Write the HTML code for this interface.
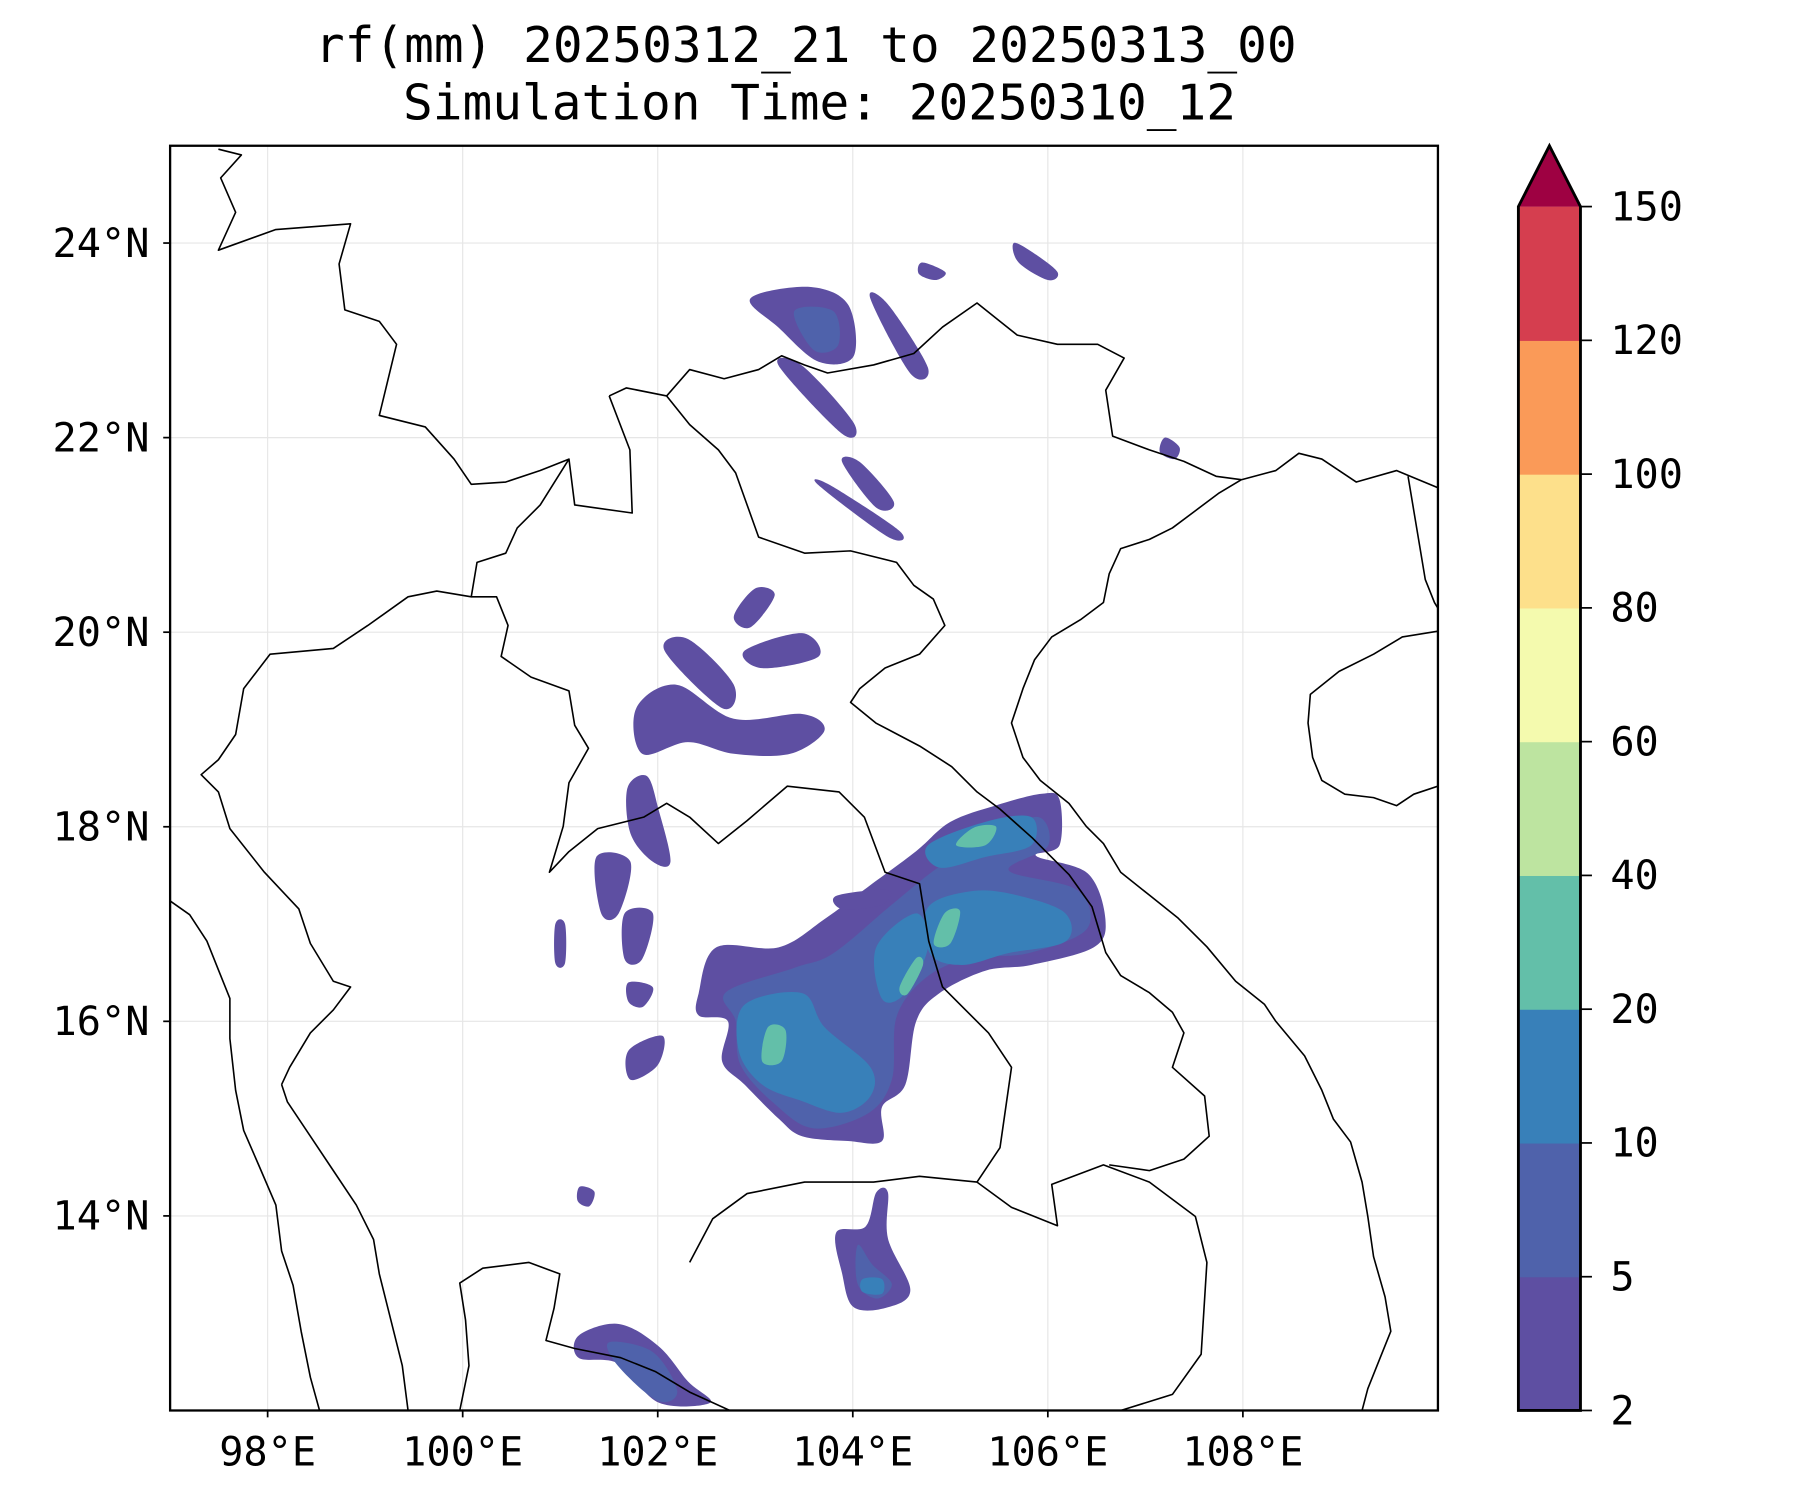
<!DOCTYPE html>
<html><head><meta charset="utf-8">
<style>
html,body{margin:0;padding:0;background:#fff;}
svg{display:block;}
text{font-family:"DejaVu Sans Mono","Liberation Mono",monospace;fill:#000;}
</style></head>
<body>
<svg id="chart" width="1800" height="1500" viewBox="0 0 1566 1307" preserveAspectRatio="none" xmlns="http://www.w3.org/2000/svg">
<rect x="0" y="0" width="1566" height="1307" fill="#fff"/>
<text x="701" y="54" font-size="43" text-anchor="middle">rf(mm) 20250312_21 to 20250313_00</text>
<text x="713" y="104" font-size="43" text-anchor="middle">Simulation Time: 20250310_12</text>
<defs><clipPath id="plotclip"><rect x="148" y="127" width="1103" height="1102"/></clipPath></defs>
<g id="grid"></g>
<g id="rain" clip-path="url(#plotclip)"></g>
<g id="geo" clip-path="url(#plotclip)" fill="none" stroke="#000" stroke-width="1.4" stroke-linejoin="round">
<polyline points="1251,425 1215,410 1180,420 1150,400 1130,395 1110,410 1080,418 1060,430 1040,445 1020,460 1000,470 975,478 965,500 960,525 940,540 915,555 900,575 890,600 880,630 890,660 905,680 930,700 945,720 960,735 975,760 1000,780 1025,800 1050,825 1075,855 1100,875 1110,890 1135,920 1150,950 1160,975 1175,995 1185,1030 1190,1060 1195,1095 1205,1130 1210,1160 1200,1185 1190,1210 1185,1229"/>
<polygon points="1140,605 1165,585 1195,570 1220,555 1251,550 1251,685 1230,692 1215,702 1195,695 1170,692 1150,680 1142,660 1138,630"/>
<polyline points="1225,415 1230,445 1235,475 1240,505 1248,525 1251,530"/>
<polyline points="148,785 165,797 180,820 190,845 200,870 200,905 205,950 212,985 225,1015 240,1050 245,1090 255,1120 262,1160 270,1200 278,1229"/>
<polyline points="355,1229 350,1190 340,1150 330,1110 325,1080 310,1050 290,1020 270,990 250,960 245,945"/>
<polyline points="400,1229 408,1190 405,1150 400,1118 420,1105 460,1100 487,1110 482,1140 475,1168 500,1175 540,1183 570,1195 600,1213 635,1229"/>
<polyline points="580,345 600,322 630,330 660,322 680,310 700,318 720,325 760,318 795,308 820,285 850,264 870,280 885,292 920,300 955,300 978,312 962,340 968,380 1000,392 1030,402 1058,415 1080,418"/>
<polyline points="530,345 545,338 580,345 600,370 625,392 640,412 650,440 660,468 700,482 740,480 780,490 795,510 812,522 822,545 800,570 770,582 748,600 740,612 762,630 800,650 828,668 850,690 870,705 898,730 930,762 950,790 962,830 975,850 1000,865 1020,882 1030,900 1020,930 1048,955 1052,990 1030,1010 1000,1020 965,1015"/>
<polyline points="190,130 210,135 192,155 205,185 190,218 240,200 305,195 295,230 300,270 330,280 345,300 330,362 370,372 395,400 410,422 440,420 470,410 495,400 500,440 550,447 548,392 530,345"/>
<polyline points="495,400 470,440 450,460 440,482 415,490 410,520 432,520 442,545 436,572 462,590 495,602 500,632 512,652 495,682 490,720 478,760 495,742 520,722 560,712 580,700 600,712 625,735 650,715 685,685 730,690 752,712 770,760 800,770 808,820 820,860 860,900 880,930 870,1000 850,1030"/>
<polyline points="410,520 380,515 355,520 320,545 290,565 235,570 212,600 205,640 190,662 175,675 190,690 200,722 230,760 260,792 270,822 290,855 305,860 290,880 270,900 252,930 245,945"/>
<polyline points="600,1100 620,1062 650,1040 700,1030 760,1030 800,1025 850,1030"/>
<polyline points="850,1030 880,1052 920,1068 915,1032 960,1015 1000,1030 1040,1060 1050,1100 1045,1180 1020,1215 975,1229"/>
</g>
<rect x="148" y="127" width="1103" height="1102" fill="none" stroke="#000" stroke-width="2"/>
<g id="axes"></g>
<g id="cbar"></g>
</svg>
<script>
// ---- data ----
const lonTicks = [98, 100, 102, 104, 106, 108];
const latTicks = [14, 16, 18, 20, 22, 24];
const cbarLevels = [2, 5, 10, 20, 40, 60, 80, 100, 120, 150];
const cbarColors = ["#5e4fa2","#4f62ab","#3880b9","#63bfa9","#bde4a0","#f4faae","#fde08b","#fa9a58","#d53e4f"];
const extendColor = "#9e0142";
// rain polygons (lon,lat) at contour level index
const rainLevel0 = [
 [[102.42,16.29],[102.60,16.76],[103.24,16.76],[103.71,17.05],[104.18,17.40],[104.65,17.75],[105.00,18.05],[105.47,18.22],[105.94,18.34],[106.12,18.28],[106.12,17.81],[105.88,17.70],[106.41,17.52],[106.59,17.05],[106.47,16.76],[105.83,16.58],[105.36,16.52],[104.89,16.29],[104.65,16.00],[104.54,15.35],[104.30,15.12],[104.30,14.77],[103.95,14.77],[103.48,14.82],[103.24,15.00],[102.89,15.35],[102.66,15.59],[102.72,16.00],[102.42,16.06]],
 [[103.83,13.83],[104.13,13.89],[104.24,14.24],[104.36,14.24],[104.36,13.77],[104.59,13.24],[104.36,13.06],[104.01,13.06],[103.89,13.41]],
 [[101.19,12.77],[101.60,12.89],[102.01,12.66],[102.31,12.30],[102.54,12.08],[102.01,12.08],[101.60,12.48],[101.19,12.54]],
 [[101.78,19.22],[102.19,19.46],[102.78,19.11],[103.48,19.16],[103.71,18.99],[103.36,18.75],[102.78,18.75],[102.31,18.87],[101.84,18.75]],
 [[102.07,19.81],[102.31,19.93],[102.78,19.46],[102.66,19.22]],
 [[102.78,20.16],[103.00,20.45],[103.20,20.38],[102.95,20.05]],
 [[102.89,19.81],[103.48,19.99],[103.65,19.75],[103.07,19.63]],
 [[102.95,23.43],[103.54,23.55],[103.95,23.37],[104.01,22.84],[103.65,22.78],[103.24,23.13]],
 [[103.24,22.74],[103.48,22.74],[104.01,22.15],[103.89,22.04]],
 [[103.89,21.75],[104.07,21.75],[104.42,21.34],[104.24,21.28]],
 [[103.65,21.51],[103.77,21.51],[104.48,21.04],[104.36,20.98]],
 [[104.18,23.43],[104.36,23.37],[104.77,22.72],[104.59,22.66]],
 [[104.71,23.80],[104.95,23.70],[104.85,23.62],[104.68,23.68]],
 [[107.20,22.00],[107.35,21.90],[107.30,21.78],[107.15,21.85]],
 [[101.69,18.40],[101.89,18.52],[102.01,18.17],[102.13,17.64],[101.95,17.64],[101.72,17.93]],
 [[101.37,17.69],[101.72,17.64],[101.60,17.11],[101.42,17.11]],
 [[101.66,17.11],[101.95,17.11],[101.84,16.64],[101.66,16.64]],
 [[101.70,16.40],[101.95,16.35],[101.85,16.15],[101.70,16.20]],
 [[100.95,17.00],[101.05,17.00],[101.05,16.60],[100.95,16.60]],
 [[101.70,15.70],[102.05,15.85],[102.00,15.55],[101.72,15.40]],
 [[103.83,17.29],[104.36,17.35],[104.30,17.20],[103.90,17.15]],
 [[101.20,14.30],[101.35,14.25],[101.30,14.10],[101.18,14.15]],
 [[105.65,24.00],[105.85,23.90],[106.10,23.70],[106.00,23.62],[105.70,23.80]]
];
const rainLevel1 = [
 [[102.70,16.30],[103.40,16.55],[103.80,16.70],[104.40,17.20],[104.90,17.60],[105.40,17.90],[105.90,18.10],[106.00,17.80],[105.60,17.55],[106.30,17.35],[106.40,16.95],[105.80,16.70],[105.20,16.65],[104.75,16.45],[104.45,16.05],[104.40,15.40],[104.15,15.05],[103.60,14.90],[103.20,15.15],[102.85,15.55],[102.80,16.00]],
 [[104.05,13.70],[104.20,13.50],[104.40,13.30],[104.25,13.15],[104.05,13.30]],
 [[101.50,12.70],[101.95,12.60],[102.20,12.20],[102.00,12.10],[101.60,12.45]],
 [[103.40,23.30],[103.80,23.30],[103.85,22.95],[103.60,22.90]]
];
const rainLevel2 = [
 [[102.89,16.17],[103.48,16.29],[103.71,15.94],[104.18,15.53],[104.18,15.23],[103.89,15.06],[103.48,15.18],[103.07,15.35],[102.83,15.70]],
 [[104.77,17.17],[105.24,17.34],[105.71,17.29],[106.18,17.11],[106.18,16.82],[105.59,16.70],[105.12,16.58],[104.79,16.70]],
 [[104.77,17.81],[105.36,18.05],[105.83,18.10],[105.83,17.81],[105.36,17.69],[104.89,17.58]],
 [[104.24,16.76],[104.65,17.11],[104.77,16.76],[104.54,16.29],[104.30,16.23]],
 [[104.10,13.35],[104.30,13.35],[104.30,13.20],[104.10,13.22]]
];
const rainLevel3 = [
 [[103.07,15.59],[103.13,15.94],[103.31,15.91],[103.27,15.59]],
 [[104.83,16.80],[104.94,17.11],[105.10,17.13],[105.00,16.80]],
 [[105.06,17.81],[105.24,17.99],[105.47,18.00],[105.36,17.81]],
 [[104.48,16.35],[104.65,16.65],[104.72,16.58],[104.56,16.28]]
];

// ---- axis functions ----
const PL=148, PT=127, PR=1251, PB=1229, LON0=97, LON1=110, LAT0=12, LAT1=25;
const xOf = lon => PL + (lon-LON0)/(LON1-LON0)*(PR-PL);
const yOf = lat => PB - (lat-LAT0)/(LAT1-LAT0)*(PB-PT);
const CB_L=1321, CB_R=1375, CB_T=180, CB_B=1229, CB_TIP=127;
const cbY = i => CB_B - i/(cbarLevels.length-1)*(CB_B-CB_T);
const NS="http://www.w3.org/2000/svg";
function mk(tag, attrs, parent){const e=document.createElementNS(NS,tag);for(const k in attrs)e.setAttribute(k,attrs[k]);parent.appendChild(e);return e;}

// grid
const grid=document.getElementById('grid');
lonTicks.forEach(v=>{const l=mk('line',{x1:xOf(v),x2:xOf(v),y1:PT,y2:PB,stroke:'#e6e6e6','stroke-width':1},grid);

});
latTicks.forEach(v=>{const l=mk('line',{x1:PL,x2:PR,y1:yOf(v),y2:yOf(v),stroke:'#e6e6e6','stroke-width':1},grid);

});

// rain
function smoothPath(pts){
 const p=pts.map(q=>[xOf(q[0]),yOf(q[1])]);const n=p.length;let d='M'+p[0][0]+','+p[0][1];
 for(let i=0;i<n;i++){const p0=p[(i-1+n)%n],p1=p[i],p2=p[(i+1)%n],p3=p[(i+2)%n];
  const c1=[p1[0]+(p2[0]-p0[0])/6,p1[1]+(p2[1]-p0[1])/6],c2=[p2[0]-(p3[0]-p1[0])/6,p2[1]-(p3[1]-p1[1])/6];
  d+=' C'+c1[0].toFixed(1)+','+c1[1].toFixed(1)+' '+c2[0].toFixed(1)+','+c2[1].toFixed(1)+' '+p2[0].toFixed(1)+','+p2[1].toFixed(1);}
 return d+'Z';}
const rain=document.getElementById('rain');
[rainLevel0,rainLevel1,rainLevel2,rainLevel3].forEach((set,lvl)=>{
 set.forEach((poly,j)=>{const e=mk('path',{d:smoothPath(poly),fill:cbarColors[lvl]},rain);
 
 });});

// axes ticks
const axes=document.getElementById('axes');
lonTicks.forEach(v=>{const t=mk('text',{x:xOf(v),y:1277,'font-size':35,'text-anchor':'middle'},axes);t.textContent=v+'°E';


mk('line',{x1:xOf(v),x2:xOf(v),y1:PB,y2:PB+6,stroke:'#000','stroke-width':1.5},axes);});
latTicks.forEach(v=>{const t=mk('text',{x:130,y:yOf(v)+12,'font-size':35,'text-anchor':'end'},axes);t.textContent=v+'°N';


mk('line',{x1:PL-6,x2:PL,y1:yOf(v),y2:yOf(v),stroke:'#000','stroke-width':1.5},axes);});

// colorbar
const cb=document.getElementById('cbar');
cbarColors.forEach((c,i)=>{const r=mk('rect',{x:CB_L,y:cbY(i+1),width:CB_R-CB_L,height:cbY(i)-cbY(i+1)+0.5,fill:c},cb);

});
const tri=mk('polygon',{points:CB_L+','+CB_T+' '+(CB_L+CB_R)/2+','+CB_TIP+' '+CB_R+','+CB_T,fill:extendColor},cb);


mk('polygon',{points:CB_L+','+CB_B+' '+CB_L+','+CB_T+' '+(CB_L+CB_R)/2+','+CB_TIP+' '+CB_R+','+CB_T+' '+CB_R+','+CB_B,fill:'none',stroke:'#000','stroke-width':2.5},cb);
cbarLevels.forEach((v,i)=>{mk('line',{x1:CB_R,x2:CB_R+10,y1:cbY(i),y2:cbY(i),stroke:'#000','stroke-width':1.5},cb);
const t=mk('text',{x:1401,y:cbY(i)+12,'font-size':35},cb);t.textContent=v;

});
</script>
</body></html>
